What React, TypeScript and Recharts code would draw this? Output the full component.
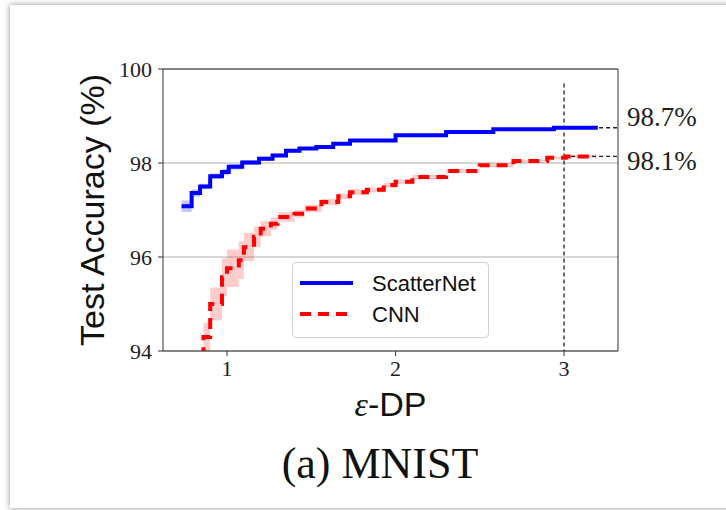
import {
  ComposedChart, Line, Area, XAxis, YAxis,
  CartesianGrid, ReferenceLine,
} from "recharts";

// ScatterNet (blue) — step curve, start eps of each level
const snEps = [0.73, 0.79, 0.84, 0.9, 0.97, 1.01, 1.09, 1.19, 1.27, 1.35, 1.43, 1.53, 1.63, 1.73, 2.0, 2.3, 2.58, 2.94, 3.2];
const snAcc = [97.08, 97.36, 97.5, 97.72, 97.81, 97.92, 98.01, 98.09, 98.16, 98.26, 98.31, 98.34, 98.41, 98.48, 98.59, 98.66, 98.72, 98.75, 98.75];
const snErr = [0.12, 0.08, 0.06, 0.06, 0.07, 0.06, 0.05, 0.05, 0.04, 0.04, 0.03, 0.03, 0.03, 0.03, 0.03, 0.02, 0.02, 0.02, 0.02];

// CNN (red dashed)
const cnnEps = [0.85, 0.86, 0.9, 0.97, 1.0, 1.07, 1.1, 1.16, 1.2, 1.26, 1.3, 1.4, 1.46, 1.56, 1.66, 1.73, 1.83, 1.93, 2.0, 2.1, 2.3, 2.5, 2.7, 2.9, 3.01, 3.19];
const cnnAcc = [93.5, 94.3, 95.0, 95.57, 95.76, 95.93, 96.21, 96.43, 96.6, 96.71, 96.85, 96.92, 97.03, 97.17, 97.29, 97.38, 97.43, 97.53, 97.6, 97.7, 97.83, 97.95, 98.04, 98.11, 98.14, 98.14];
const cnnErr = [0.3, 0.3, 0.35, 0.4, 0.4, 0.4, 0.3, 0.22, 0.16, 0.13, 0.1, 0.08, 0.08, 0.07, 0.06, 0.06, 0.05, 0.05, 0.05, 0.05, 0.04, 0.04, 0.03, 0.03, 0.03, 0.03];

const xTicks = [1, 2, 3];
const yTicks = [94, 96, 98, 100];
const xDomain = [0.62, 3.32];
const markEps = 3;
const finalAcc = [98.75, 98.14];
const finalLabels = ["98.7%", "98.1%"];
const labelShift = [-8, 7];

const snData = snEps.map((eps, i) => ({
  eps, acc: snAcc[i], band: [snAcc[i] - snErr[i], snAcc[i] + snErr[i]],
}));
const cnnData = cnnEps.map((eps, i) => ({
  eps, acc: cnnAcc[i], band: [cnnAcc[i] - cnnErr[i], cnnAcc[i] + cnnErr[i]],
}));
const endLines = finalAcc.map((v) => [
  { eps: markEps, acc: v },
  { eps: xDomain[1], acc: v },
]);

const serif = "'Liberation Serif', 'Times New Roman', serif";
const sans = "'Liberation Sans', 'DejaVu Sans', sans-serif";

const LegendBox = () => (
  <div
    style={{
      position: "absolute", left: 292, top: 262, width: 197, height: 76,
      border: "1px solid #d0d0d0", borderRadius: 4,
      background: "rgba(255,255,255,0.85)", boxSizing: "border-box",
    }}
  >
    <svg width={197} height={76} style={{ position: "absolute", left: -1, top: -1 }}>
      <line x1={8} x2={61} y1={21} y2={21} stroke="#0000ff" strokeWidth={4} />
      <line x1={8} x2={61} y1={52} y2={52} stroke="#ff0000" strokeWidth={4} strokeDasharray="11 7" />
      <text x={80} y={29} fontFamily={sans} fontSize={22} fill="#111">ScatterNet</text>
      <text x={80} y={60} fontFamily={sans} fontSize={22} fill="#111">CNN</text>
    </svg>
  </div>
);

const App = () => {
  return (
    <div style={{ position: "absolute", left: 0, top: 0, width: 726, height: 510, background: "#fff", overflow: "hidden" }}>
      <div
        style={{
          position: "absolute", left: 10, top: 5, width: 730, height: 503,
          background: "#fff", boxShadow: "0 0 6px rgba(0,0,0,0.45)",
        }}
      />
      <div style={{ position: "absolute", left: 0, top: 0 }}>
        <ComposedChart
          width={726}
          height={510}
          margin={{ top: 69, right: 108, left: 113, bottom: 119 }}
        >
          <CartesianGrid vertical={false} stroke="#b0b0b0" strokeWidth={1} />
          <XAxis
            type="number"
            dataKey="eps"
            domain={xDomain}
            ticks={xTicks}
            allowDataOverflow
            height={40}
            stroke="#333"
            tickSize={5}
            tickMargin={4}
            tick={{ fontFamily: serif, fontSize: 22, fill: "#222" }}
            label={({ viewBox }: any) => (
              <text
                x={viewBox.x + viewBox.width / 2}
                y={416}
                textAnchor="middle"
                fontFamily={sans}
                fontSize={34}
                fill="#111"
              >
                <tspan fontFamily={serif} fontStyle="italic">ε</tspan>-DP
              </text>
            )}
          />
          <YAxis
            type="number"
            domain={[94, 100]}
            ticks={yTicks}
            allowDataOverflow
            width={50}
            stroke="#333"
            tickSize={5}
            tickMargin={6}
            tick={{ fontFamily: serif, fontSize: 22, fill: "#222" }}
            label={({ viewBox }: any) => {
              const cy = viewBox.y + viewBox.height / 2;
              return (
                <text
                  x={104}
                  y={cy}
                  transform={`rotate(-90, 104, ${cy})`}
                  textAnchor="middle"
                  fontFamily={sans}
                  fontSize={34}
                  fill="#111"
                >
                  Test Accuracy (%)
                </text>
              );
            }}
          />
          <ReferenceLine y={100} stroke="#333" strokeWidth={1} />
          <ReferenceLine x={xDomain[1]} stroke="#333" strokeWidth={1} />
          <Area
            data={snData}
            dataKey="band"
            type="stepAfter"
            stroke="none"
            fill="#0000ff"
            fillOpacity={0.22}
            legendType="none"
            isAnimationActive={false}
          />
          <Area
            data={cnnData}
            dataKey="band"
            type="stepAfter"
            stroke="none"
            fill="#ff0000"
            fillOpacity={0.2}
            legendType="none"
            isAnimationActive={false}
          />
          {endLines.map((d, k) => (
            <Line
              key={k}
              data={d}
              dataKey="acc"
              stroke="#222"
              strokeWidth={1.3}
              strokeDasharray="4 3"
              dot={false}
              legendType="none"
              isAnimationActive={false}
              label={(p: any) =>
                p.index === 1 ? (
                  <text
                    key={k}
                    x={p.x + 9}
                    y={p.y + labelShift[k]}
                    dominantBaseline="middle"
                    fontFamily={serif}
                    fontSize={27}
                    fill="#222"
                  >
                    {finalLabels[k]}
                  </text>
                ) : null
              }
            />
          ))}
          <ReferenceLine
            segment={[{ x: markEps, y: 99.69 }, { x: markEps, y: 94 }]}
            stroke="#222"
            strokeWidth={1.3}
            strokeDasharray="4 3"
          />
          <Line
            data={snData}
            dataKey="acc"
            name="ScatterNet"
            type="stepAfter"
            stroke="#0000ff"
            strokeWidth={4}
            dot={false}
            isAnimationActive={false}
          />
          <Line
            data={cnnData}
            dataKey="acc"
            name="CNN"
            type="stepAfter"
            stroke="#ff0000"
            strokeWidth={4}
            strokeDasharray="11 7"
            dot={false}
            isAnimationActive={false}
          />
        </ComposedChart>
      </div>
      <LegendBox />
      <div
        style={{
          position: "absolute", left: 0, width: 760, top: 438, textAlign: "center",
          fontFamily: serif, fontSize: 44, color: "#111",
        }}
      >
        (a) MNIST
      </div>
    </div>
  );
};

export default App;
